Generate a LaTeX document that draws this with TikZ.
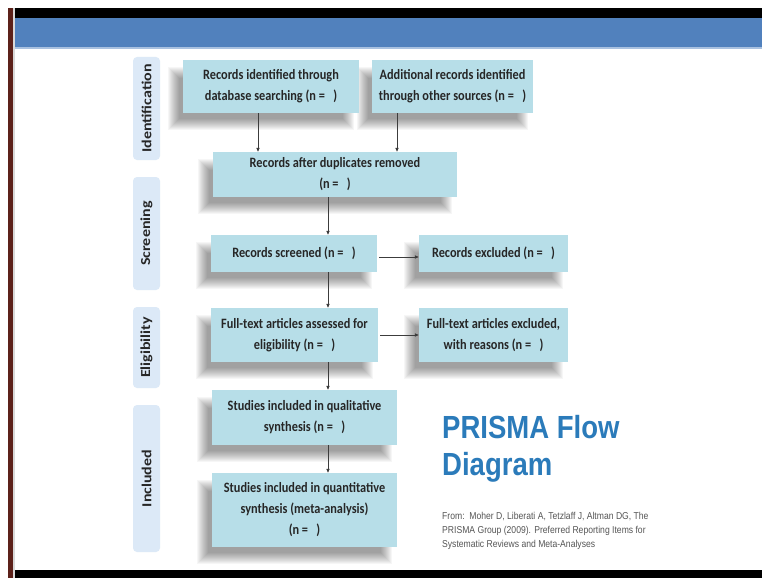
\documentclass[tikz,border=0pt]{standalone}
\usepackage{graphicx}
\usepackage{fontspec}
\newfontfamily\boxfont[FakeStretch=0.86]{Carlito}
\newfontfamily\sidefont{Carlito}
\newfontfamily\arialfont[FakeStretch=0.86]{Liberation Sans}
\usetikzlibrary{arrows.meta}
\definecolor{boxfill}{HTML}{B7DEE8}
\definecolor{sidefill}{HTML}{DCE9F7}
\definecolor{bandblue}{HTML}{5181BD}
\definecolor{bandlight}{HTML}{A9C1E0}
\definecolor{framebrown}{HTML}{5C211A}
\definecolor{titleblue}{HTML}{2B7BBA}
\definecolor{boxtext}{HTML}{262626}
\definecolor{reftext}{HTML}{555555}
\pgfdeclarelayer{bglayer}
\pgfdeclarelayer{shadowlayer}
\pgfsetlayers{bglayer,shadowlayer,main}
\tikzset{
  flowbox/.style={fill=boxfill, inner sep=0pt, align=center, text=boxtext,
    font=\boxfont\bfseries\fontsize{14.3}{21}\selectfont},
  sidebox/.style={fill=sidefill, rounded corners=4pt, inner sep=0pt, rotate=90,
    minimum height=27pt, text=boxtext, font=\sidefont\bfseries\fontsize{16}{18}\selectfont},
  arr/.style={draw=boxtext!90, line width=0.8pt, -{Triangle[length=4pt,width=3.2pt]}},
  titletext/.style={anchor=base west, inner sep=0pt, text=titleblue,
    font=\arialfont\bfseries\fontsize{32}{37}\selectfont},
  refline/.style={anchor=base west, inner sep=0pt, text=reftext,
    font=\arialfont\fontsize{10}{14}\selectfont}
}
\newcommand\sidetext[1]{\scalebox{1}[0.86]{#1}}
\newcommand\boxshadow[1]{%
  \begin{pgfonlayer}{shadowlayer}
    \foreach \k in {0,1,...,11}{
      \fill[black,opacity=0.035] ([shift={(-4-\k,18-\k)}]#1.north west)
        rectangle ([shift={(-16+\k,6+\k)}]#1.south east);
    }
  \end{pgfonlayer}}
\begin{document}
\begin{tikzpicture}[x=1pt,y=-1pt]
\useasboundingbox (0,0) rectangle (762,578);
\begin{pgfonlayer}{bglayer}
  \fill[white] (0,0) rectangle (762,578);
  \fill[black] (14,8) rectangle (762,18);
  \fill[bandblue] (14,18) rectangle (762,47);
  \fill[bandlight] (14,47) rectangle (762,49);
  \fill[black] (14,570) rectangle (762,578);
  \fill[framebrown] (8,8) rectangle (13,578);
  \fill[gray!30] (13,8) rectangle (14.5,578);
\end{pgfonlayer}

% side labels
\node[sidebox, minimum width=103pt] (sid) at (146.5,108.5) {\sidetext{Identification}};
\node[sidebox, minimum width=113pt] (ssc) at (146.5,233.5) {\sidetext{Screening}};
\node[sidebox, minimum width=81pt] (sel) at (146.5,347.5) {\sidetext{Eligibility}};
\node[sidebox, minimum width=147pt] (sin) at (146.5,478.5) {\sidetext{Included}};

% flow boxes
\node[flowbox, minimum width=176pt, minimum height=53pt] (b1) at (271,86.5)
  {Records identified through\\database searching (n =\ \ \ )};
\node[flowbox, minimum width=161pt, minimum height=53pt] (b2) at (452.5,86.5)
  {Additional records identified\\through other sources (n =\ \ \ )};
\node[flowbox, minimum width=244pt, minimum height=45pt] (b3) at (335,174.5)
  {Records after duplicates removed\\(n =\ \ \ )};
\node[flowbox, minimum width=166pt, minimum height=37pt] (b4) at (294,253.5)
  {Records screened (n =\ \ \ )};
\node[flowbox, minimum width=149pt, minimum height=37pt] (b5) at (493.5,253.5)
  {Records excluded (n =\ \ \ )};
\node[flowbox, minimum width=167pt, minimum height=54pt] (b6) at (294.5,335)
  {Full-text articles assessed for\\eligibility (n =\ \ \ )};
\node[flowbox, minimum width=149pt, minimum height=54pt] (b7) at (493.5,335)
  {Full-text articles excluded,\\with reasons (n =\ \ \ )};
\node[flowbox, minimum width=185pt, minimum height=55pt] (b8) at (304.5,417.5)
  {Studies included in qualitative\\synthesis (n =\ \ \ )};
\node[flowbox, minimum width=185pt, minimum height=74pt] (b9) at (304.5,510)
  {Studies included in quantitative\\synthesis (meta-analysis)\\(n =\ \ \ )};

\boxshadow{b1}\boxshadow{b2}\boxshadow{b3}\boxshadow{b4}\boxshadow{b5}
\boxshadow{b6}\boxshadow{b7}\boxshadow{b8}\boxshadow{b9}

% arrow guide coordinates
\coordinate (ax1) at (258,0);
\coordinate (ax2) at (397,0);
\coordinate (axm) at (328,0);
\coordinate (ay1) at (0,257);
\coordinate (ay2) at (0,335);

\draw[arr] (b1.south -| ax1) -- (b3.north -| ax1);
\draw[arr] (b2.south -| ax2) -- (b3.north -| ax2);
\draw[arr] (b3.south -| axm) -- (b4.north -| axm);
\draw[arr] ([xshift=2pt]b4.east |- ay1) -- (b5.west |- ay1);
\draw[arr] (b4.south -| axm) -- (b6.north -| axm);
\draw[arr] ([xshift=2pt]b6.east |- ay2) -- (b7.west |- ay2);
\draw[arr] (b6.south -| axm) -- (b8.north -| axm);
\draw[arr] (b8.south -| axm) -- (b9.north -| axm);

% title and reference
\node[titletext] (t1) at (442,438) {PRISMA Flow};
\node[titletext] (t2) at (442,475) {Diagram};
\node[refline] (r1) at (442,519) {From:\ \ Moher D, Liberati A, Tetzlaff J, Altman DG, The};
\node[refline] (r2) at (442,533) {PRISMA Group (2009). Preferred Reporting Items for};
\node[refline] (r3) at (442,547) {Systematic Reviews and Meta-Analyses};
\end{tikzpicture}
\end{document}
